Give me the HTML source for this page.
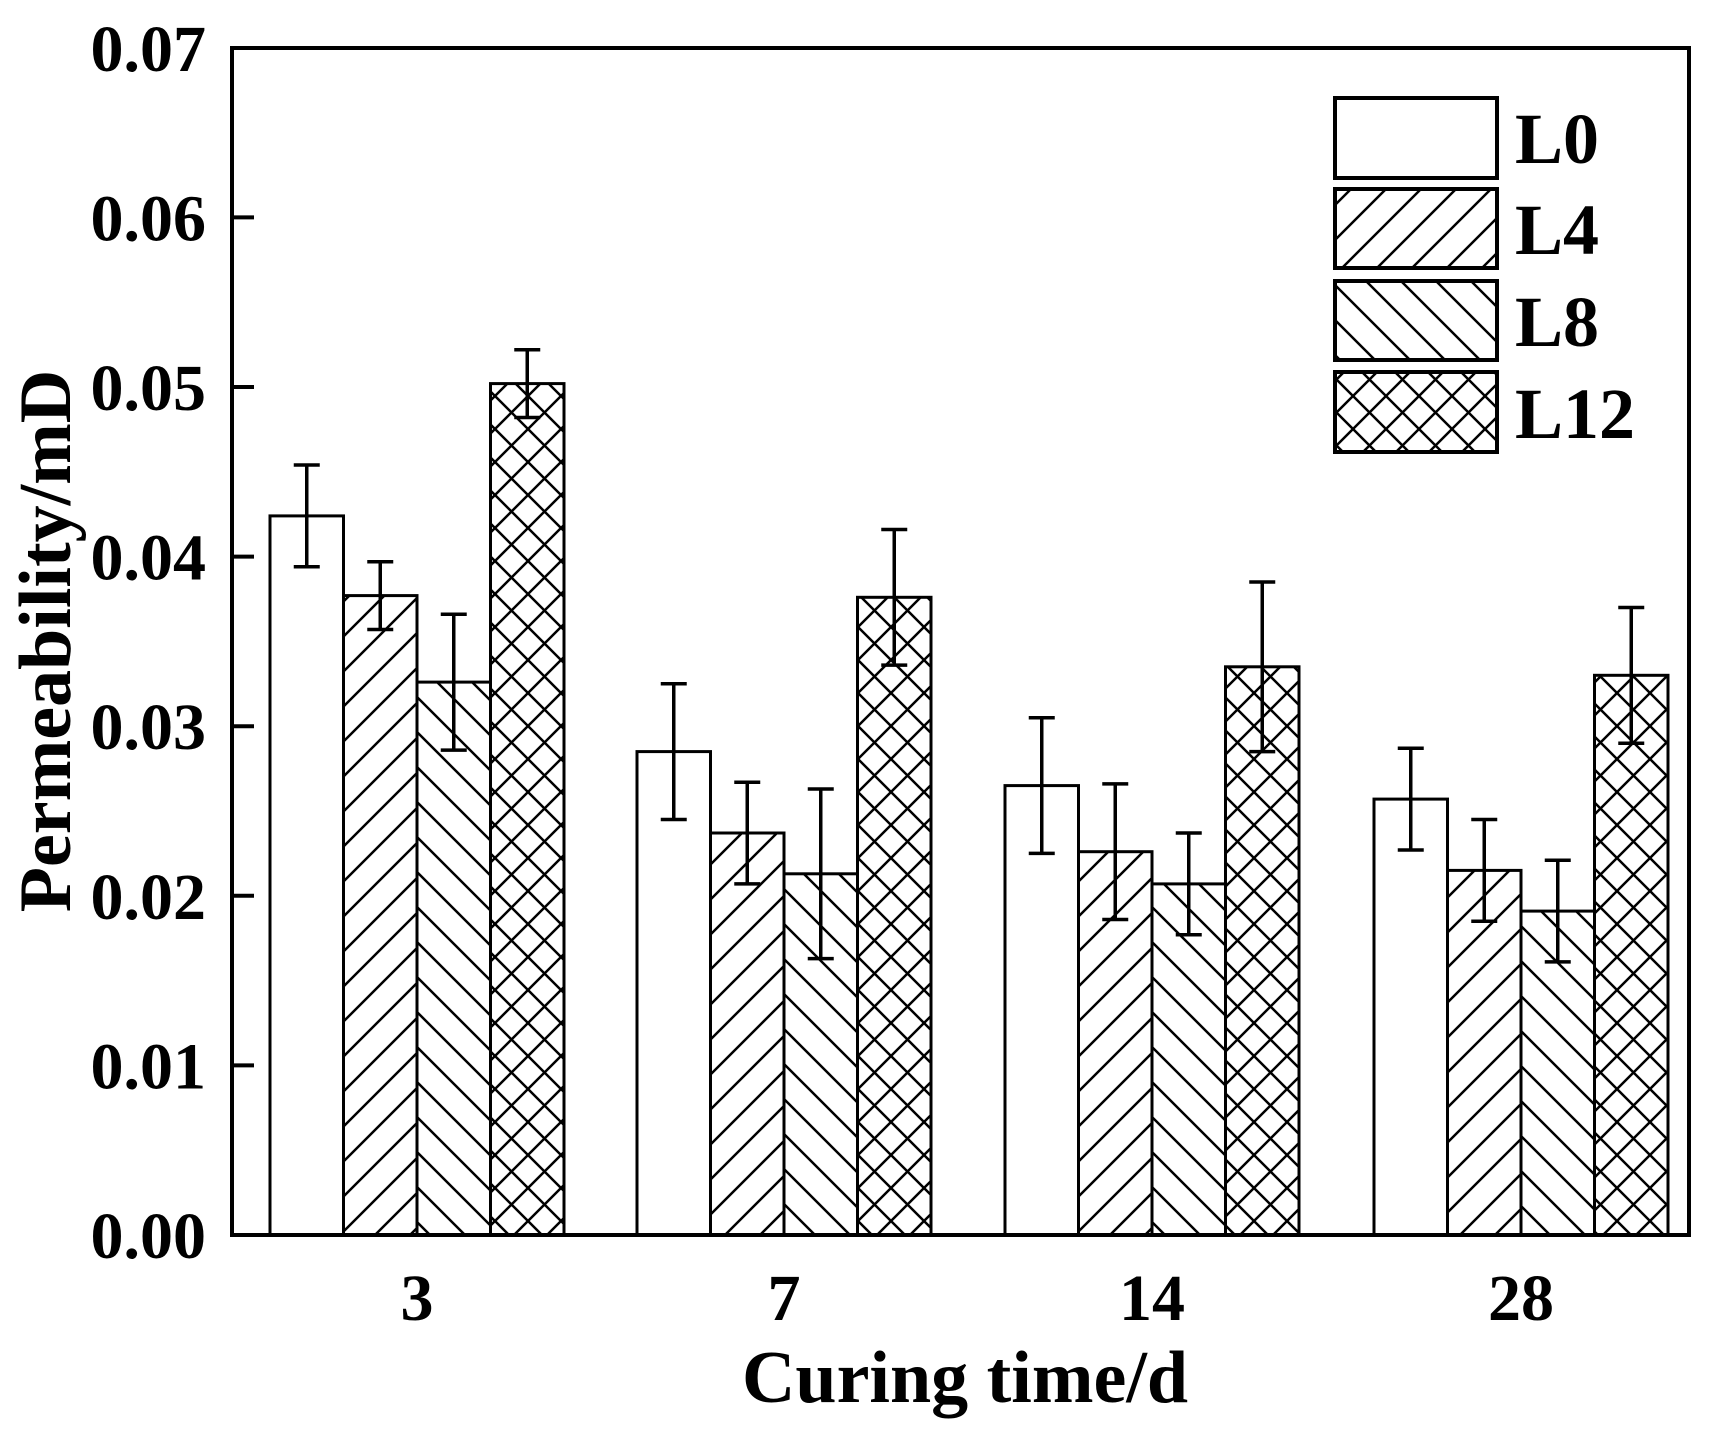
<!DOCTYPE html>
<html><head><meta charset="utf-8"><style>html,body{margin:0;padding:0;background:#fff}svg{display:block}</style></head>
<body>
<svg width="1724" height="1430" viewBox="0 0 1724 1430" xmlns="http://www.w3.org/2000/svg" font-family="'Liberation Serif', serif" font-weight="bold">
<defs>
<pattern id="fw" patternUnits="userSpaceOnUse" width="35" height="35"><path d="M-5,5 L5,-5 M-5,40 L40,-5 M30,40 L40,30" stroke="#000" stroke-width="2.5"/></pattern>
<pattern id="bw" patternUnits="userSpaceOnUse" width="35" height="35"><path d="M-5,-5 L40,40 M-5,30 L5,40 M30,-5 L40,5" stroke="#000" stroke-width="2.5"/></pattern>
<pattern id="cx" patternUnits="userSpaceOnUse" width="33" height="33"><path d="M-5,5 L5,-5 M-5,38 L38,-5 M28,38 L38,28 M-5,-5 L38,38 M-5,28 L5,38 M28,-5 L38,5" stroke="#000" stroke-width="2.5"/></pattern>
</defs>
<rect width="1724" height="1430" fill="#fff"/>
<g stroke="#000" stroke-width="3">
<rect x="270" y="515.9" width="73.5" height="719.1" fill="#fff"/>
<rect x="343.5" y="595.6" width="73.5" height="639.4" fill="url(#fw)"/>
<rect x="417" y="682.1" width="73.5" height="552.9" fill="url(#bw)"/>
<rect x="490.5" y="383.6" width="73.5" height="851.4" fill="url(#cx)"/>
<rect x="637" y="751.6" width="73.5" height="483.4" fill="#fff"/>
<rect x="710.5" y="833" width="73.5" height="402" fill="url(#fw)"/>
<rect x="784" y="873.8" width="73.5" height="361.2" fill="url(#bw)"/>
<rect x="857.5" y="597.3" width="73.5" height="637.7" fill="url(#cx)"/>
<rect x="1005" y="785.6" width="73.5" height="449.4" fill="#fff"/>
<rect x="1078.5" y="851.7" width="73.5" height="383.3" fill="url(#fw)"/>
<rect x="1152" y="883.9" width="73.5" height="351.1" fill="url(#bw)"/>
<rect x="1225.5" y="666.8" width="73.5" height="568.2" fill="url(#cx)"/>
<rect x="1374" y="799.1" width="73.5" height="435.9" fill="#fff"/>
<rect x="1447.5" y="870.4" width="73.5" height="364.6" fill="url(#fw)"/>
<rect x="1521" y="911.1" width="73.5" height="323.9" fill="url(#bw)"/>
<rect x="1594.5" y="675.3" width="73.5" height="559.7" fill="url(#cx)"/>
</g>
<g stroke="#000" stroke-width="3.5" fill="none">
<path d="M306.75,465V566.8M293.75,465h26M293.75,566.8h26"/>
<path d="M380.25,561.7V629.5M367.25,561.7h26M367.25,629.5h26"/>
<path d="M453.75,614.3V750.1M440.75,614.3h26M440.75,750.1h26"/>
<path d="M527.25,349.7V417.5M514.25,349.7h26M514.25,417.5h26"/>
<path d="M673.75,683.8V819.5M660.75,683.8h26M660.75,819.5h26"/>
<path d="M747.25,782.2V883.9M734.25,782.2h26M734.25,883.9h26"/>
<path d="M820.75,789V958.6M807.75,789h26M807.75,958.6h26"/>
<path d="M894.25,529.5V665.1M881.25,529.5h26M881.25,665.1h26"/>
<path d="M1041.75,717.7V853.4M1028.75,717.7h26M1028.75,853.4h26"/>
<path d="M1115.25,783.9V919.5M1102.25,783.9h26M1102.25,919.5h26"/>
<path d="M1188.75,833V934.8M1175.75,833h26M1175.75,934.8h26"/>
<path d="M1262.25,582V751.6M1249.25,582h26M1249.25,751.6h26"/>
<path d="M1410.75,748.2V850M1397.75,748.2h26M1397.75,850h26"/>
<path d="M1484.25,819.5V921.2M1471.25,819.5h26M1471.25,921.2h26"/>
<path d="M1557.75,860.2V961.9M1544.75,860.2h26M1544.75,961.9h26"/>
<path d="M1631.25,607.5V743.2M1618.25,607.5h26M1618.25,743.2h26"/>
</g>
<g stroke="#000" stroke-width="4" fill="none">
<rect x="232" y="48" width="1457" height="1187"/>
<path d="M232,1065.4h22M232,895.8h22M232,726.2h22M232,556.6h22M232,387h22M232,217.4h22"/>
</g>
<g font-size="66" text-anchor="end">
<text x="206" y="1258">0.00</text><text x="206" y="1088.4">0.01</text><text x="206" y="918.8">0.02</text><text x="206" y="749.2">0.03</text><text x="206" y="579.6">0.04</text><text x="206" y="410">0.05</text><text x="206" y="240.4">0.06</text><text x="206" y="70.8">0.07</text>
</g>
<g font-size="66" text-anchor="middle">
<text x="417" y="1320">3</text><text x="784" y="1320">7</text><text x="1152" y="1320">14</text><text x="1521" y="1320">28</text>
</g>
<text x="965" y="1402" font-size="74" text-anchor="middle">Curing time/d</text>
<text transform="translate(70,641) rotate(-90)" font-size="74" text-anchor="middle">Permeability/mD</text>
<g stroke="#000" stroke-width="4">
<rect x="1335" y="98" width="162" height="80" fill="#fff"/>
<rect x="1335" y="189" width="162" height="79" fill="url(#fw)"/>
<rect x="1335" y="281" width="162" height="79" fill="url(#bw)"/>
<rect x="1335" y="372" width="162" height="80" fill="url(#cx)"/>
</g>
<g font-size="72">
<text x="1515" y="163">L0</text><text x="1515" y="254">L4</text><text x="1515" y="346">L8</text><text x="1515" y="438">L12</text>
</g>
</svg>
</body></html>
